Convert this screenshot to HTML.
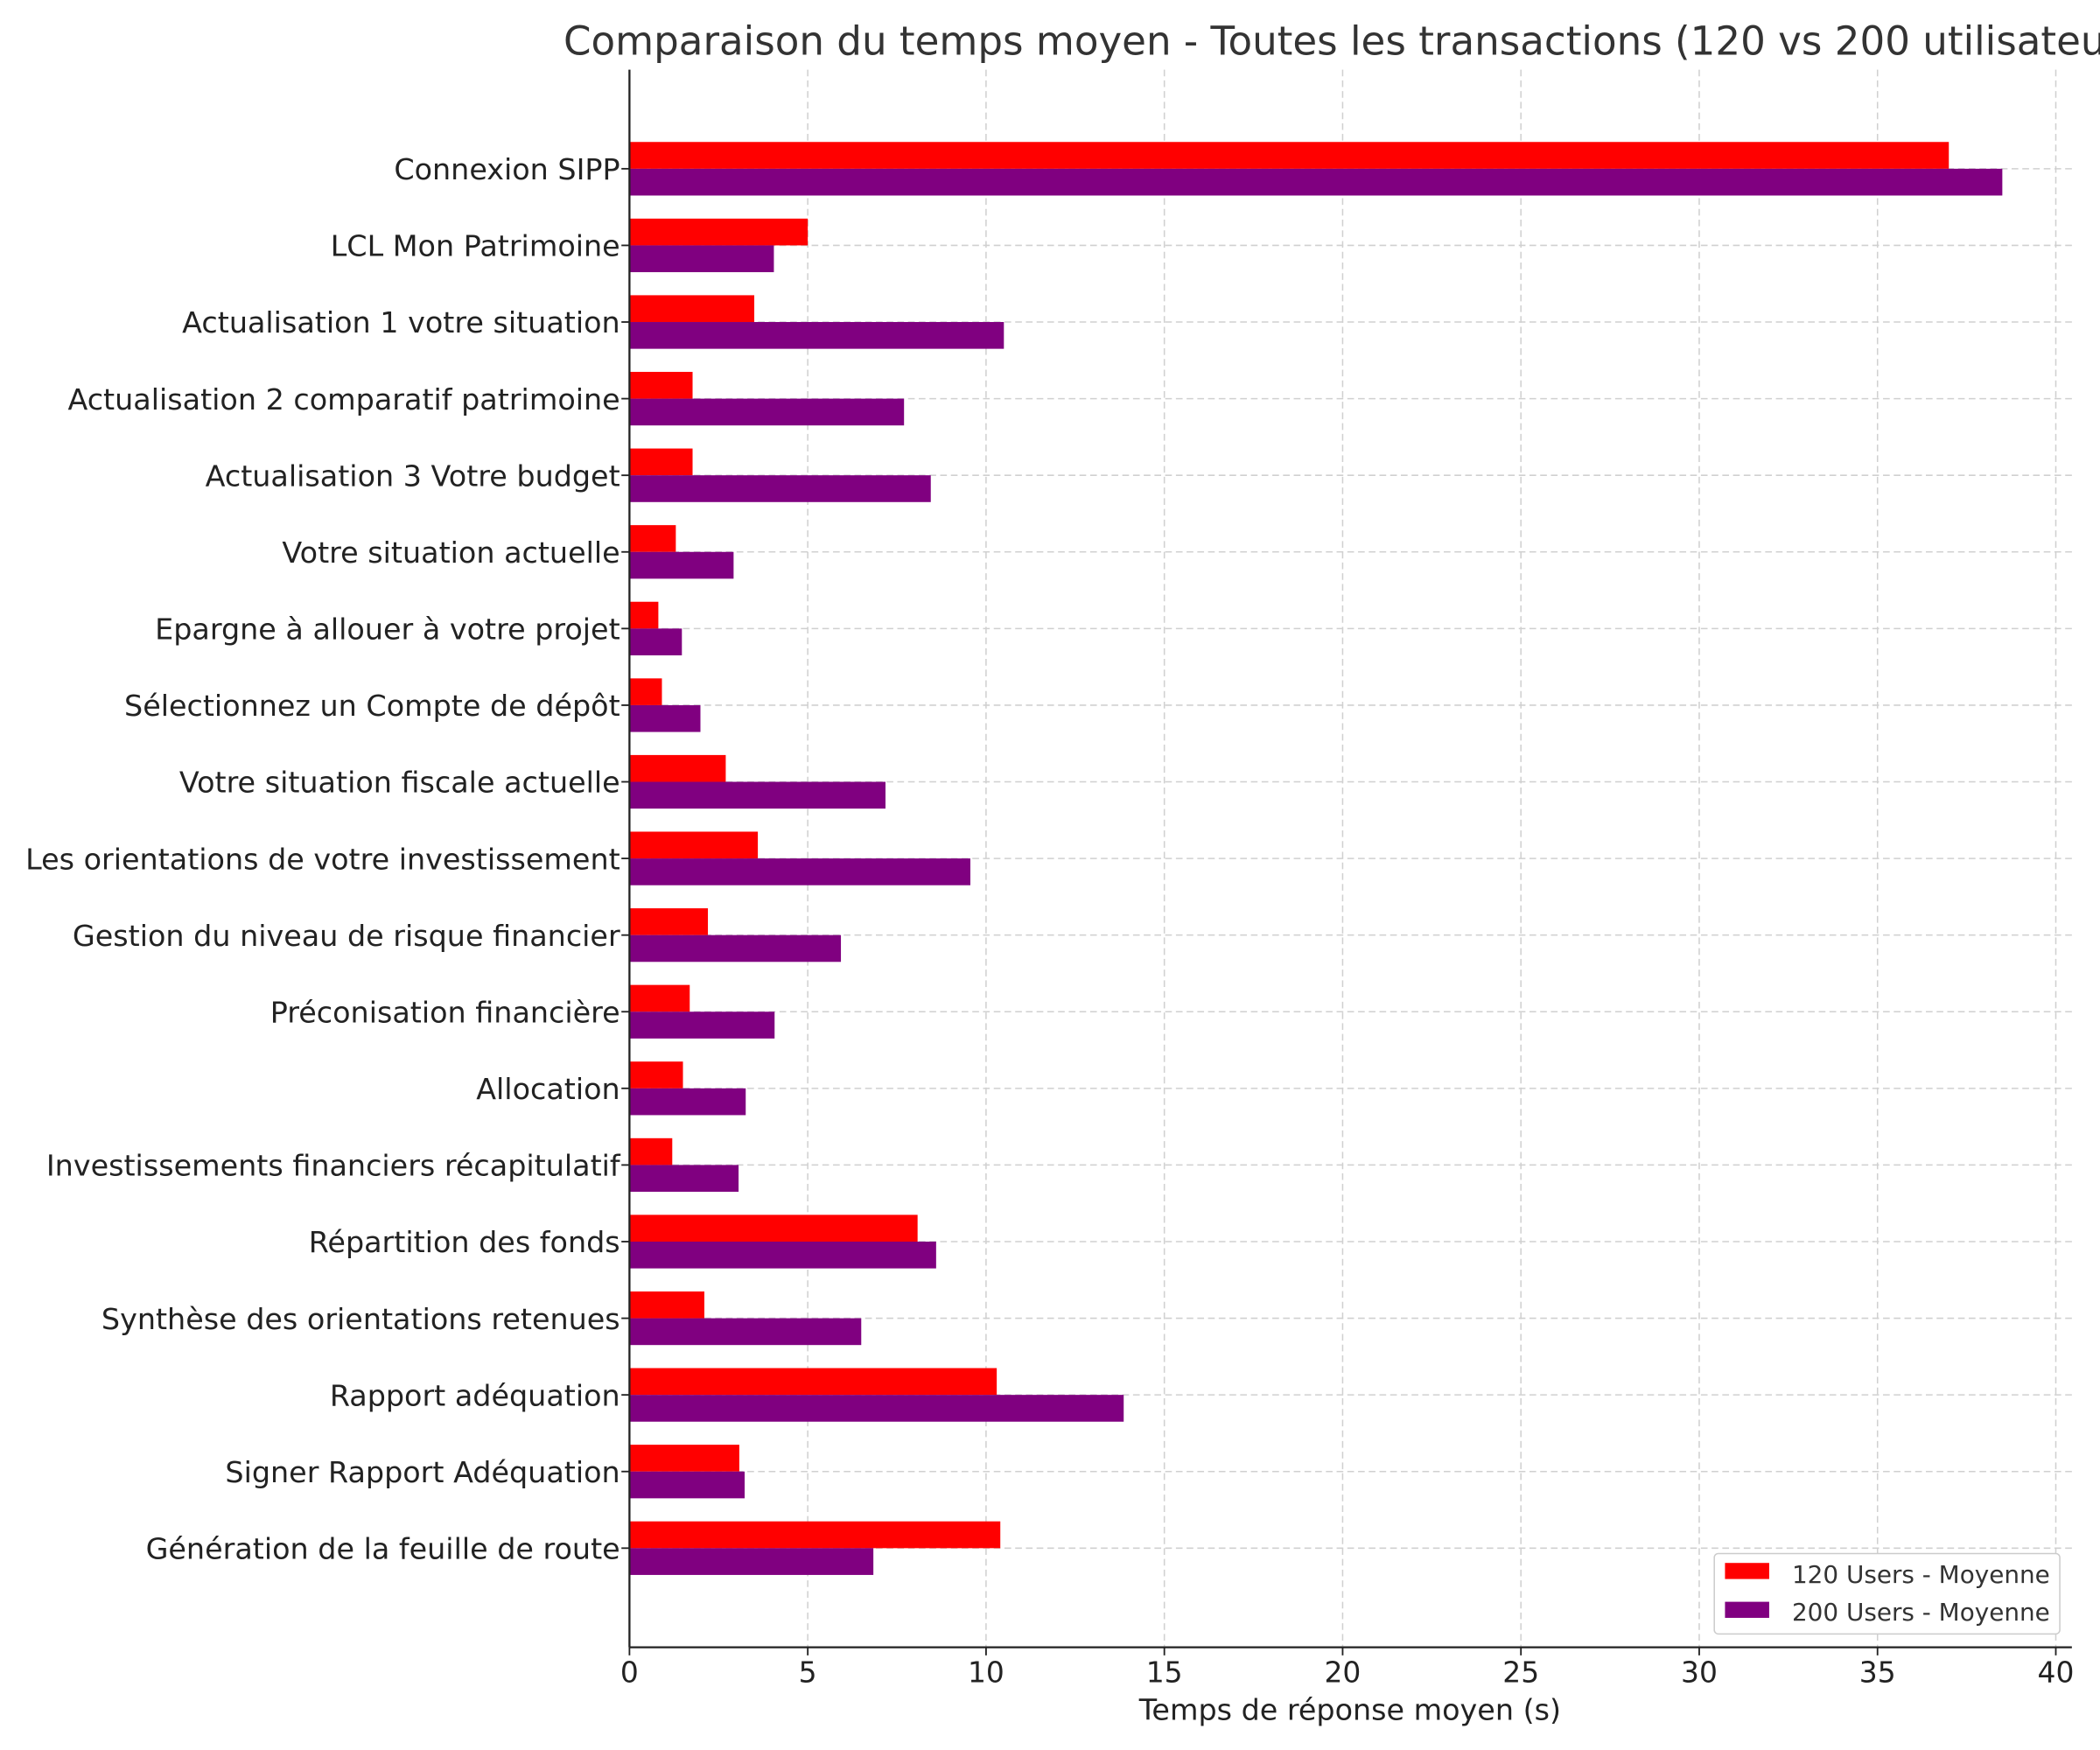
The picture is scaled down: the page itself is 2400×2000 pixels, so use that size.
<!DOCTYPE html>
<html><head><meta charset="utf-8"><style>
html,body{margin:0;padding:0;background:#fff;}
svg{display:block;font-family:"DejaVu Sans","Liberation Sans",sans-serif;}
</style></head><body>
<svg id="chart" width="2400" height="2000" viewBox="0 0 1568 1306.67" preserveAspectRatio="none" xmlns="http://www.w3.org/2000/svg">
<rect width="1568" height="1307" fill="#fff"/>
<g id="grid"></g><g id="bars"></g><g id="axes"></g>
<text x="1016" y="41" font-size="29.5" fill="#333" text-anchor="middle">Comparaison du temps moyen - Toutes les transactions (120 vs 200 utilisateurs)</text>
<text x="1008" y="1284" font-size="21.8" fill="#222" text-anchor="middle">Temps de réponse moyen (s)</text>
<g>
<rect x="1280" y="1160" width="258" height="60" fill="#fff" stroke="#ccc" rx="3"/>
<rect x="1288" y="1167" width="33" height="12" fill="#ff0000"/>
<text x="1338" y="1182" font-size="18.2" fill="#333">120 Users - Moyenne</text>
<rect x="1288" y="1196" width="33" height="12" fill="#800080"/>
<text x="1338" y="1210" font-size="18.2" fill="#333">200 Users - Moyenne</text>
</g>
</svg>
<script>
const categories=["Connexion SIPP","LCL Mon Patrimoine","Actualisation 1 votre situation","Actualisation 2 comparatif patrimoine","Actualisation 3 Votre budget","Votre situation actuelle","Epargne à allouer à votre projet","Sélectionnez un Compte de dépôt","Votre situation fiscale actuelle","Les orientations de votre investissement","Gestion du niveau de risque financier","Préconisation financière","Allocation","Investissements financiers récapitulatif","Répartition des fonds","Synthèse des orientations retenues","Rapport adéquation","Signer Rapport Adéquation","Génération de la feuille de route"];
const users120=[37.0,5.0,3.5,1.77,1.77,1.3,0.81,0.91,2.7,3.6,2.2,1.69,1.5,1.2,8.08,2.1,10.3,3.08,10.4];
const users200=[38.5,4.05,10.5,7.7,8.45,2.92,1.47,1.99,7.18,9.56,5.93,4.07,3.26,3.06,8.6,6.5,13.86,3.23,6.84];
const xTicks=[0,5,10,15,20,25,30,35,40];
const NS="http://www.w3.org/2000/svg";
const X0=470,XS=26.625,Y0=126,YS=57.22,BH=20,TOP=52,BOT=1230,RIGHT=1547;
const xs=v=>X0+v*XS, ys=i=>Y0+i*YS;
function mk(tag,attrs,parent){const e=document.createElementNS(NS,tag);for(const k in attrs)e.setAttribute(k,attrs[k]);parent.appendChild(e);return e;}
const grid=document.getElementById('grid'),bars=document.getElementById('bars'),axes=document.getElementById('axes');
xTicks.forEach(t=>{
 const l=mk('line',{x1:xs(t),x2:xs(t),y1:TOP,y2:BOT,stroke:'#d0d0d0','stroke-dasharray':'5,3','stroke-width':1},grid);
 
 
 const tk=mk('line',{x1:xs(t),x2:xs(t),y1:BOT,y2:BOT+6,stroke:'#222','stroke-width':1.2},axes);
 
 
 const tx=mk('text',{x:xs(t),y:BOT+26,'font-size':21.5,fill:'#222','text-anchor':'middle'},axes);
 tx.textContent=t;
 
 
});
categories.forEach((c,i)=>{
 const g=mk('line',{x1:X0,x2:RIGHT,y1:ys(i),y2:ys(i),stroke:'#d0d0d0','stroke-dasharray':'5,3','stroke-width':1},grid);
 
 
 const r=mk('rect',{x:X0,y:ys(i)-BH,width:users120[i]*XS,height:BH,fill:'#ff0000'},bars);
 
 
 const p=mk('rect',{x:X0,y:ys(i),width:users200[i]*XS,height:BH,fill:'#800080'},bars);
 
 
 const tk=mk('line',{x1:X0-6,x2:X0,y1:ys(i),y2:ys(i),stroke:'#222','stroke-width':1.2},axes);
 
 
 const tx=mk('text',{x:X0-7,y:ys(i)+8,'font-size':21.8,fill:'#222','text-anchor':'end'},axes);
 tx.textContent=c;
 
 
});
const ax=mk('line',{x1:X0,x2:X0,y1:TOP,y2:BOT,stroke:'#222','stroke-width':1.5},axes);


const bx=mk('line',{x1:X0,x2:RIGHT,y1:BOT,y2:BOT,stroke:'#222','stroke-width':1.5},axes);


</script>
</body></html>
